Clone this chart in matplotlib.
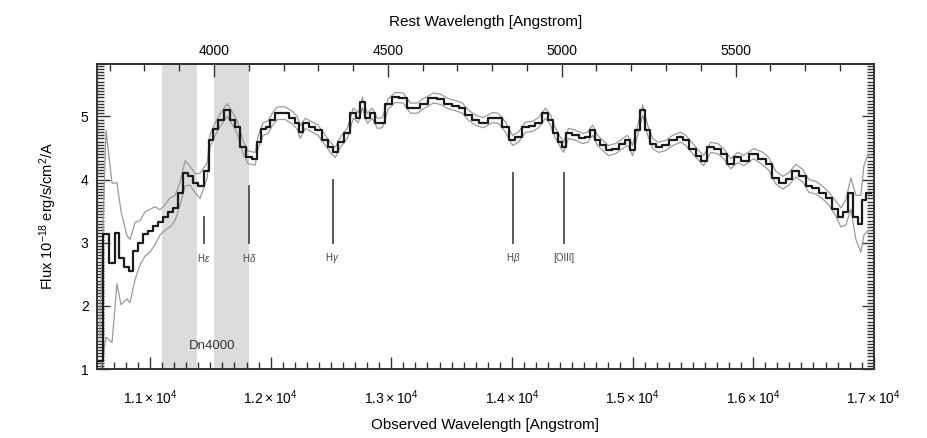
import numpy as np
import matplotlib
matplotlib.use('Agg')
import matplotlib.pyplot as plt
from matplotlib.ticker import MultipleLocator, FixedLocator, FuncFormatter

plt.rcParams['font.family'] = ['Liberation Sans', 'DejaVu Sans']
plt.rcParams['mathtext.fontset'] = 'custom'
plt.rcParams['mathtext.rm'] = 'Liberation Sans'
plt.rcParams['mathtext.it'] = 'Liberation Sans:italic'
# IDL-like inward ticks with minor ticks everywhere
plt.rcParams['xtick.direction'] = 'in'
plt.rcParams['ytick.direction'] = 'in'
plt.rcParams['xtick.minor.visible'] = True
plt.rcParams['ytick.minor.visible'] = True
plt.rcParams['xtick.minor.size'] = 5
plt.rcParams['ytick.minor.size'] = 5
plt.rcParams['xtick.minor.width'] = 1.0
plt.rcParams['ytick.minor.width'] = 1.0
plt.rcParams['xtick.major.size'] = 9
plt.rcParams['ytick.major.size'] = 9
plt.rcParams['xtick.major.width'] = 1.0
plt.rcParams['ytick.major.width'] = 1.0

# --- Data ---
redshift = 1.8825

wave = [10580, 10635, 10685, 10726, 10759, 10809, 10834, 10876, 10917, 10959,
        11000, 11042, 11083, 11125, 11166, 11208, 11249, 11291, 11332, 11374,
        11415, 11473, 11498, 11540, 11581, 11639, 11689, 11722, 11772, 11813,
        11872, 11896, 11938, 11979, 12013, 12054, 12121, 12179, 12220, 12245,
        12287, 12345, 12394, 12453, 12494, 12536, 12577, 12635, 12685, 12726,
        12760, 12801, 12843, 12884, 12926, 12975, 13034, 13100, 13158, 13216,
        13266, 13349, 13407, 13473, 13532, 13590, 13639, 13698, 13764, 13839,
        13888, 13947, 14005, 14054, 14113, 14171, 14220, 14279, 14320, 14362,
        14403, 14428, 14469, 14528, 14586, 14627, 14669, 14710, 14752, 14801,
        14860, 14918, 14959, 15001, 15042, 15084, 15125, 15167, 15216, 15275,
        15333, 15399, 15441, 15499, 15548, 15590, 15648, 15706, 15756, 15814,
        15872, 15922, 16005, 16080, 16129, 16188, 16246, 16295, 16354, 16412,
        16461, 16520, 16578, 16627, 16686, 16727, 16769, 16810, 16852, 16893,
        16918, 16951, 16976]

flux = [1.13, 3.14, 2.68, 3.15, 2.76, 2.61, 2.55, 2.87, 3.00, 3.14,
        3.19, 3.27, 3.32, 3.40, 3.48, 3.55, 3.78, 4.10, 4.06, 3.94,
        3.90, 4.14, 4.62, 4.80, 4.94, 5.10, 4.95, 4.83, 4.51, 4.35,
        4.33, 4.59, 4.80, 4.83, 4.95, 5.05, 5.05, 4.98, 4.90, 4.75,
        4.89, 4.83, 4.78, 4.62, 4.51, 4.43, 4.59, 4.73, 5.05, 4.98,
        5.22, 4.97, 5.05, 4.89, 4.90, 5.20, 5.30, 5.29, 5.13, 5.13,
        5.20, 5.29, 5.27, 5.20, 5.17, 5.13, 5.02, 4.94, 4.90, 4.98,
        4.97, 4.83, 4.62, 4.67, 4.83, 4.84, 4.90, 5.05, 4.94, 4.73,
        4.59, 4.51, 4.73, 4.70, 4.65, 4.67, 4.78, 4.62, 4.54, 4.46,
        4.49, 4.57, 4.62, 4.46, 4.78, 5.10, 4.78, 4.57, 4.51, 4.54,
        4.62, 4.67, 4.62, 4.49, 4.38, 4.30, 4.51, 4.49, 4.41, 4.25,
        4.35, 4.30, 4.41, 4.33, 4.25, 4.03, 3.95, 4.01, 4.14, 4.06,
        3.90, 3.87, 3.79, 3.70, 3.54, 3.40, 3.48, 3.78, 3.40, 3.30,
        3.67, 3.79, 3.79]

flux_err = [0.30, 1.64, 1.26, 0.80, 0.74, 0.50, 0.50, 0.45, 0.35, 0.35,
            0.34, 0.30, 0.20, 0.20, 0.23, 0.20, 0.18, 0.20, 0.15, 0.15,
            0.20, 0.12, 0.10, 0.10, 0.10, 0.10, 0.10, 0.10, 0.10, 0.10,
            0.10, 0.10, 0.10, 0.10, 0.10, 0.10, 0.10, 0.10, 0.10, 0.10,
            0.08, 0.08, 0.08, 0.08, 0.08, 0.08, 0.08, 0.08, 0.08, 0.08,
            0.08, 0.08, 0.08, 0.08, 0.08, 0.08, 0.08, 0.08, 0.08, 0.08,
            0.08, 0.08, 0.08, 0.08, 0.08, 0.08, 0.08, 0.08, 0.08, 0.08,
            0.08, 0.08, 0.08, 0.08, 0.08, 0.08, 0.08, 0.08, 0.08, 0.08,
            0.08, 0.08, 0.08, 0.08, 0.08, 0.08, 0.08, 0.08, 0.08, 0.08,
            0.08, 0.08, 0.08, 0.08, 0.08, 0.08, 0.08, 0.08, 0.08, 0.08,
            0.08, 0.08, 0.08, 0.08, 0.08, 0.08, 0.08, 0.08, 0.08, 0.08,
            0.08, 0.08, 0.08, 0.10, 0.10, 0.10, 0.10, 0.10, 0.10, 0.10,
            0.10, 0.10, 0.10, 0.10, 0.12, 0.15, 0.20, 0.25, 0.35, 0.45,
            0.55, 0.60, 0.60]

# Dn4000 bands (rest frame)
dn_bands = [(3850, 3950), (4000, 4100)]

# absorption/emission line markers
line_names = [r'H$\epsilon$', r'H$\delta$', r'H$\gamma$', r'H$\beta$', '[OIII]']
line_rest = [3970, 4102, 4341, 4861, 5007]
line_top = [3.4, 3.9, 4.0, 4.1, 4.1]

# --- Plot ---
wave = np.array(wave)
flux = np.array(flux)
flux_err = np.array(flux_err)
zf = 1 + redshift

fig = plt.figure(figsize=(9.27, 4.38), dpi=100)
ax = fig.add_axes([0.1046, 0.1575, 0.838, 0.6965])

for lo, hi in dn_bands:
    ax.axvspan(lo * zf, hi * zf, color='#dcdcdc', lw=0, zorder=0)

# error envelope drawn as plain lines, spectrum as steps
ax.plot(wave, flux + flux_err, color='#9a9a9a', lw=0.9, zorder=2)
ax.plot(wave, flux - flux_err, color='#9a9a9a', lw=0.9, zorder=2)
ax.step(wave, flux, where='mid', color='#1a1a1a', lw=1.6, zorder=3)

for name, rest, top in zip(line_names, line_rest, line_top):
    ax.plot([rest * zf, rest * zf], [3.0, top], color='#4d4d4d', lw=1.3)
    ax.text(rest * zf, 2.76, name, ha='center', va='center', fontsize=7, color='#444444')

ax.text(11515, 1.37, 'Dn4000', ha='center', va='center', fontsize=9.5, color='#333333')

ax.set_xlim(10560, 17000)
ax.set_ylim(1, 5.83)

ax.xaxis.set_major_locator(MultipleLocator(1000))
ax.xaxis.set_minor_locator(MultipleLocator(100))
ax.yaxis.set_major_locator(MultipleLocator(1))
ax.yaxis.set_minor_locator(MultipleLocator(0.05))
ax.xaxis.set_major_formatter(FuncFormatter(lambda v, p: r'$%.1f\times10^{4}$' % (v / 1e4)))
ax.yaxis.set_major_formatter(FuncFormatter(lambda v, p: '%d' % v))

ax.tick_params(which='both', top=False, right=True, labelsize=10, color='#333333')
ax.tick_params(axis='x', which='both', pad=14)
ax.tick_params(axis='y', which='both', pad=6)

# rest-frame axis on top
top = ax.secondary_xaxis('top', functions=(lambda x: x / zf, lambda x: x * zf))
top.xaxis.set_major_locator(FixedLocator([4000, 4500, 5000, 5500]))
top.xaxis.set_minor_locator(MultipleLocator(100))
top.tick_params(which='both', direction='in', labelsize=10, pad=4, color='#333333')
top.set_xlabel('Rest Wavelength [Angstrom]', fontsize=11, labelpad=13)

for s in ax.spines.values():
    s.set_linewidth(1.4)
    s.set_color('#333333')
top.spines['top'].set_linewidth(1.4)

ax.set_xlabel('Observed Wavelength [Angstrom]', fontsize=11, labelpad=8)
ax.set_ylabel(r'Flux 10$^{-18}$ erg/s/cm$^{2}$/A', fontsize=10.5, labelpad=16)

fig.savefig('out.png', dpi=100)
